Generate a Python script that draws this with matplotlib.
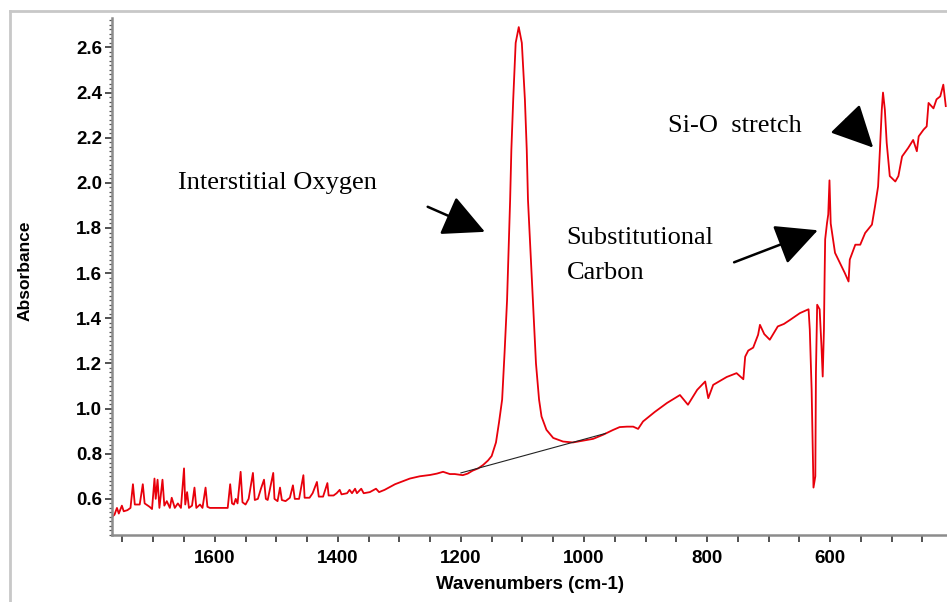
import matplotlib
matplotlib.use("Agg")
import matplotlib.pyplot as plt
from matplotlib.lines import Line2D
from matplotlib.ticker import MultipleLocator
import numpy as np

# spectrum (wavenumber, absorbance)
wavenumber = [
    1767, 1763, 1759, 1756, 1751, 1748, 1742, 1737, 1733, 1730, 1722, 1717, 1714,
    1706, 1702, 1698, 1696, 1693, 1690, 1685, 1682, 1678, 1673, 1670, 1665, 1660,
    1655, 1650, 1648, 1645, 1642, 1637, 1633, 1630, 1624, 1620, 1615, 1612, 1608,
    1579, 1575, 1572, 1569, 1566, 1563, 1558, 1555, 1550, 1545, 1538, 1535, 1530,
    1525, 1520, 1517, 1514, 1505, 1503, 1498, 1494, 1491, 1485, 1478, 1473, 1470,
    1463, 1456, 1454, 1446, 1441, 1434, 1431, 1424, 1417, 1415, 1407, 1402, 1397,
    1394, 1385, 1381, 1377, 1372, 1369, 1362, 1358, 1348, 1338, 1333, 1324, 1307,
    1283, 1267, 1250, 1239, 1229, 1218, 1210, 1197, 1189, 1181, 1172, 1164, 1156,
    1150, 1143, 1138, 1133, 1129, 1125, 1120, 1118, 1115, 1111, 1106, 1101, 1096,
    1093, 1091, 1083, 1078, 1073, 1069, 1061, 1050, 1034, 1018, 1002, 985, 969,
    953, 942, 930, 920, 912, 904, 885, 865, 844, 831, 816, 803, 798, 790, 768,
    752, 741, 738, 733, 725, 717, 714, 707, 698, 685, 675, 665, 649, 635, 633,
    630, 627, 624, 623, 621, 617, 614, 612, 610, 609, 608, 605, 603, 601, 599,
    592, 584, 576, 570, 568, 559, 551, 543, 532, 527, 522, 519, 516, 514, 511,
    508, 503, 494, 489, 483, 473, 465, 459, 456, 448, 443, 440, 432, 427, 421,
    416, 412,
]
absorbance = [
    0.52, 0.53, 0.56, 0.535, 0.57, 0.545, 0.55, 0.56, 0.665, 0.575, 0.575, 0.665, 0.58,
    0.565, 0.555, 0.69, 0.60, 0.685, 0.56, 0.685, 0.57, 0.59, 0.56, 0.605, 0.56, 0.58,
    0.56, 0.735, 0.575, 0.63, 0.56, 0.57, 0.65, 0.56, 0.575, 0.56, 0.65, 0.565, 0.56,
    0.56, 0.665, 0.58, 0.575, 0.60, 0.58, 0.72, 0.585, 0.575, 0.60, 0.715, 0.595, 0.60,
    0.645, 0.685, 0.60, 0.595, 0.715, 0.60, 0.59, 0.65, 0.595, 0.59, 0.605, 0.66, 0.60,
    0.60, 0.705, 0.605, 0.605, 0.625, 0.675, 0.61, 0.61, 0.67, 0.615, 0.615, 0.625, 0.64,
    0.62, 0.625, 0.64, 0.625, 0.645, 0.625, 0.645, 0.625, 0.63, 0.645, 0.63, 0.64, 0.665,
    0.69, 0.70, 0.706, 0.712, 0.72, 0.71, 0.71, 0.705, 0.712, 0.725, 0.735, 0.75, 0.77,
    0.79, 0.85, 0.94, 1.04, 1.25, 1.48, 1.925, 2.147, 2.369, 2.62, 2.69, 2.62, 2.369,
    2.147, 1.925, 1.48, 1.20, 1.04, 0.965, 0.906, 0.87, 0.854, 0.85, 0.858, 0.866, 0.884,
    0.905, 0.918, 0.92, 0.92, 0.91, 0.943, 0.985, 1.025, 1.06, 1.017, 1.083, 1.12, 1.046, 1.105, 1.14,
    1.157, 1.13, 1.23, 1.257, 1.27, 1.327, 1.371, 1.33, 1.305, 1.364, 1.375, 1.393, 1.423, 1.44, 1.35,
    1.083, 0.65, 0.70, 1.16, 1.46, 1.44, 1.275, 1.142, 1.35, 1.57, 1.75, 1.822, 1.86, 2.011, 1.82,
    1.69, 1.645, 1.60, 1.563, 1.66, 1.726, 1.726, 1.778, 1.815, 1.896, 1.984, 2.147, 2.324, 2.40, 2.324,
    2.177, 2.03, 2.006, 2.03, 2.117, 2.155, 2.19, 2.14, 2.206, 2.236, 2.25, 2.354, 2.33, 2.37, 2.383,
    2.435, 2.34,
]

# baseline drawn under the interstitial oxygen band
baseline_wn = [1200, 965]
baseline_abs = [0.715, 0.89]

fig = plt.figure(figsize=(9.47, 6.02), dpi=100)
ax = fig.add_axes([0.1183, 0.1113, 0.8817, 0.8587])

ax.plot(wavenumber, absorbance, color="#e8000b", linewidth=1.3)
ax.plot(baseline_wn, baseline_abs, color="#222222", linewidth=0.8)

ax.set_xlim(1767, 410)
ax.set_ylim(0.44, 2.73)

ax.xaxis.set_major_locator(MultipleLocator(200))
ax.xaxis.set_minor_locator(MultipleLocator(50))
ax.yaxis.set_major_locator(MultipleLocator(0.2))
ax.yaxis.set_minor_locator(MultipleLocator(0.02))
ax.yaxis.set_major_formatter(matplotlib.ticker.FormatStrFormatter("%.1f"))

for s in ["top", "right"]:
    ax.spines[s].set_visible(False)
for s in ["left", "bottom"]:
    ax.spines[s].set_color("#8c8c8c")
    ax.spines[s].set_linewidth(1.8)

ax.tick_params(axis="both", which="major", length=5, width=1.2, color="#333333", pad=2)
ax.tick_params(axis="x", which="major", pad=6)
ax.tick_params(axis="y", which="minor", length=2.5, width=0.9, color="#555555")
ax.tick_params(axis="x", which="minor", length=5, width=1.2, color="#333333")
for lab in ax.get_xticklabels() + ax.get_yticklabels():
    lab.set_fontfamily("Liberation Sans")
    lab.set_fontweight("bold")
    lab.set_fontsize(13.5)

ax.set_xlabel("Wavenumbers (cm-1)", fontfamily="Liberation Sans", fontweight="bold",
              fontsize=13.5, labelpad=6)
fig.text(0.026, 0.55, "Absorbance", rotation=90, ha="center", va="center",
         fontfamily="Liberation Sans", fontweight="bold", fontsize=12.5)

serif = {"family": "Liberation Serif", "size": 19}
ax.text(1660, 2.0, "Interstitial Oxygen", va="center", ha="left", fontdict=serif)
ax.text(1028, 1.757, "Substitutional", va="center", ha="left", fontdict=serif)
ax.text(1028, 1.602, "Carbon", va="center", ha="left", fontdict=serif)
ax.text(863, 2.253, "Si-O  stretch", va="center", ha="left", fontdict=serif)

arrow = dict(arrowstyle="-|>,head_length=1.45,head_width=0.72", mutation_scale=18,
             color="black", linewidth=1.8, shrinkA=0, shrinkB=0)
ax.annotate("", xy=(1161, 1.783), xytext=(1254, 1.894), arrowprops=arrow)
ax.annotate("", xy=(620, 1.79), xytext=(756, 1.648), arrowprops=arrow)
ax.annotate("", xy=(530, 2.156), xytext=(574, 2.28), arrowprops=arrow)

# outer grey frame of the screenshot
fig.add_artist(Line2D([0.011, 0.011], [0.0, 0.982], color="#c8c8c8", linewidth=2))
fig.add_artist(Line2D([0.011, 1.0], [0.982, 0.982], color="#c8c8c8", linewidth=2))

fig.savefig("out.png", dpi=100)
